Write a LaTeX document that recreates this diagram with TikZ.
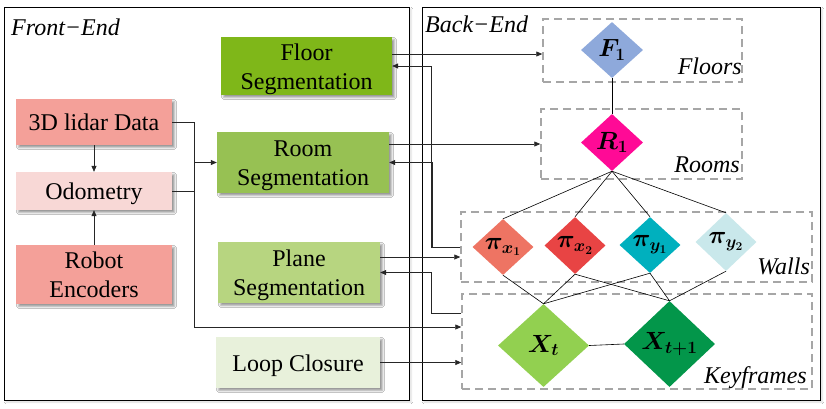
\documentclass[tikz,border=0pt]{standalone}
\usepackage{fontspec}
\setmainfont{Liberation Serif}
\usepackage{bm}
\usetikzlibrary{shapes.geometric,arrows.meta,shadows.blur}
\definecolor{cFloor}{HTML}{7FB719}
\definecolor{cRoom}{HTML}{97C153}
\definecolor{cPlane}{HTML}{B7D580}
\definecolor{cLoop}{HTML}{E8F1DB}
\definecolor{cLidar}{HTML}{F4A099}
\definecolor{cOdom}{HTML}{F8D8D6}
\definecolor{cF}{HTML}{8EA9DB}
\definecolor{cR}{HTML}{FF0A96}
\definecolor{cPxa}{HTML}{EE7463}
\definecolor{cPxb}{HTML}{E84444}
\definecolor{cPya}{HTML}{00B0BE}
\definecolor{cPyb}{HTML}{C9E8EB}
\definecolor{cXt}{HTML}{92D050}
\definecolor{cXtt}{HTML}{03964A}
\definecolor{cDash}{HTML}{A6A6A6}
\newcommand{\boxtxt}[1]{\raisebox{-3pt}[\height][\depth]{\begin{tabular}{@{}c@{}}#1\end{tabular}}}
\tikzset{
  box/.style={rectangle, inner sep=0pt,
    font=\fontsize{24}{29}\selectfont,
    blur shadow={shadow xshift=2.5pt, shadow yshift=-2.5pt, shadow blur steps=4, shadow opacity=40}},
  outer/.style={rectangle, draw=black, line width=0.9pt, inner sep=0pt, fill=white,
    blur shadow={shadow xshift=2pt, shadow yshift=-2pt, shadow blur steps=4, shadow opacity=15}},
  grp/.style={rectangle, draw=cDash, line width=1.5pt, dash pattern=on 8pt off 5pt, inner sep=0pt},
  dia/.style={diamond, inner sep=0pt, font=\fontsize{24}{28}\selectfont},
  lab/.style={font=\fontsize{24}{29}\selectfont\itshape, inner sep=0pt},
  conn/.style={draw=black!85, line width=0.7pt},
  arr/.style={conn, -{Triangle[length=6pt,width=5pt]}},
  link/.style={draw=black, line width=0.6pt}
}
\begin{document}
\begin{tikzpicture}[x=1pt,y=-1pt]
\useasboundingbox (0,0) rectangle (826,408);
\fill[white] (0,0) rectangle (826,408);
% outer frames
\node[outer, minimum width=405pt, minimum height=393pt] (fe) at (206.5,203.5) {};
\node[outer, minimum width=398pt, minimum height=393pt] (be) at (621,203.5) {};
\node[lab, anchor=base west] (felab) at (11,35) {Front−End};
\node[lab, anchor=base west] (belab) at (425,32) {Back−End};
% front-end boxes
\node[box, fill=cFloor, minimum width=171pt, minimum height=58pt] (floor) at (306.5,66) {\boxtxt{Floor\\Segmentation}};
\node[box, fill=cRoom, minimum width=172pt, minimum height=61pt] (room) at (303,162.5) {\boxtxt{Room\\Segmentation}};
\node[box, fill=cPlane, minimum width=162pt, minimum height=61pt] (plane) at (299,272.5) {\boxtxt{Plane\\Segmentation}};
\node[box, fill=cLoop, minimum width=164pt, minimum height=51pt] (loop) at (298,362.5) {\boxtxt{Loop Closure}};
\node[box, fill=cLidar, minimum width=156pt, minimum height=46pt] (lidar) at (94,122) {\boxtxt{3D lidar Data}};
\node[box, fill=cOdom, minimum width=156pt, minimum height=38pt] (odom) at (94,191) {\boxtxt{Odometry}};
\node[box, fill=cLidar, minimum width=156pt, minimum height=59pt] (enc) at (94,274.5) {\boxtxt{Robot\\Encoders}};
% back-end groups
\node[grp, minimum width=199pt, minimum height=63pt] (floors) at (642.5,50.5) {};
\node[grp, minimum width=201pt, minimum height=70pt] (rooms) at (641.5,144) {};
\node[grp, minimum width=351pt, minimum height=70pt] (walls) at (636.5,247) {};
\node[grp, minimum width=350pt, minimum height=95pt] (kf) at (637,341.5) {};
\node[lab, anchor=base east] (floorslab) at (742,74) {Floors};
\node[lab, anchor=base east] (roomslab) at (740,172) {Rooms};
\node[lab, anchor=base east] (wallslab) at (810,274) {Walls};
\node[lab, anchor=base east] (kflab) at (807,383) {Keyframes};
% diamonds
\node[dia, fill=cF, minimum width=62pt, minimum height=56pt] (F1) at (612,50) {$\bm{F_1}$};
\node[dia, fill=cR, minimum width=62pt, minimum height=57pt] (R1) at (612,142.5) {$\bm{R_1}$};
\node[dia, fill=cPxa, minimum width=61pt, minimum height=56pt, font=\fontsize{26}{30}\selectfont] (px1) at (503,247) {$\bm{\pi_{x_1}}$};
\node[dia, fill=cPxb, minimum width=61pt, minimum height=57pt, font=\fontsize{26}{30}\selectfont] (px2) at (575,245.5) {$\bm{\pi_{x_2}}$};
\node[dia, fill=cPya, minimum width=61pt, minimum height=56pt, font=\fontsize{26}{30}\selectfont] (py1) at (650,245) {$\bm{\pi_{y_1}}$};
\node[dia, fill=cPyb, minimum width=61pt, minimum height=58pt, font=\fontsize{26}{30}\selectfont] (py2) at (726,242) {$\bm{\pi_{y_2}}$};
\node[dia, fill=cXt, minimum width=91pt, minimum height=83pt, font=\fontsize{26}{30}\selectfont] (xt) at (543.5,345.5) {$\bm{X_t}$};
\node[dia, fill=cXtt, minimum width=91pt, minimum height=86pt, font=\fontsize{26}{30}\selectfont] (xtt) at (669.5,344) {$\bm{X_{t+1}}$};
% graph links
\draw[link] (F1.south) -- (R1.north);
\foreach \w in {px1,px2,py1,py2} \draw[link] (R1.south) -- (\w.north);
\draw[link] (px1.south) -- (xt.north);
\draw[link] (px2.south) -- (xt.north);
\draw[link] (px2.south) -- (xtt.north);
\draw[link] (py1.south) -- (xt.north);
\draw[link] (py1.south) -- (xtt.north);
\draw[link] (py2.south) -- (xtt.north);
\draw[link] (xt.east) -- (xtt.west);
% front-end internal
\draw[arr] (lidar.south) -- (odom.north);
\draw[arr] (enc.north) -- (odom.south);
\path (lidar.east) ++(22,0) coordinate (jx);
\draw[conn] (odom.east) -- (odom.east -| jx);
\draw[arr] (lidar.east) -- (jx) |- ([yshift=14.5pt]kf.west);
\draw[arr] (jx |- room.west) -- (room.west);
% front to back
\draw[arr] ([yshift=12pt]floor.east) -- ([yshift=12pt]floor.east -| floors.west);
\draw[arr] (room.east |- rooms.west) -- (rooms.west);
\draw[arr] ([yshift=15.5pt]plane.east) -- ([yshift=15.5pt]plane.east -| walls.west);
\draw[arr] (loop.east) -- (loop.east -| kf.west);
% back to front
\draw[arr] (walls.west) -- ++(-29,0) |- (floor.east);
\draw[arr] (walls.west) -- ++(-28,0) |- (room.east);
\draw[arr] ([yshift=28.5pt]kf.west) -- ++(-30,0) |- (plane.east);
\end{tikzpicture}
\end{document}
